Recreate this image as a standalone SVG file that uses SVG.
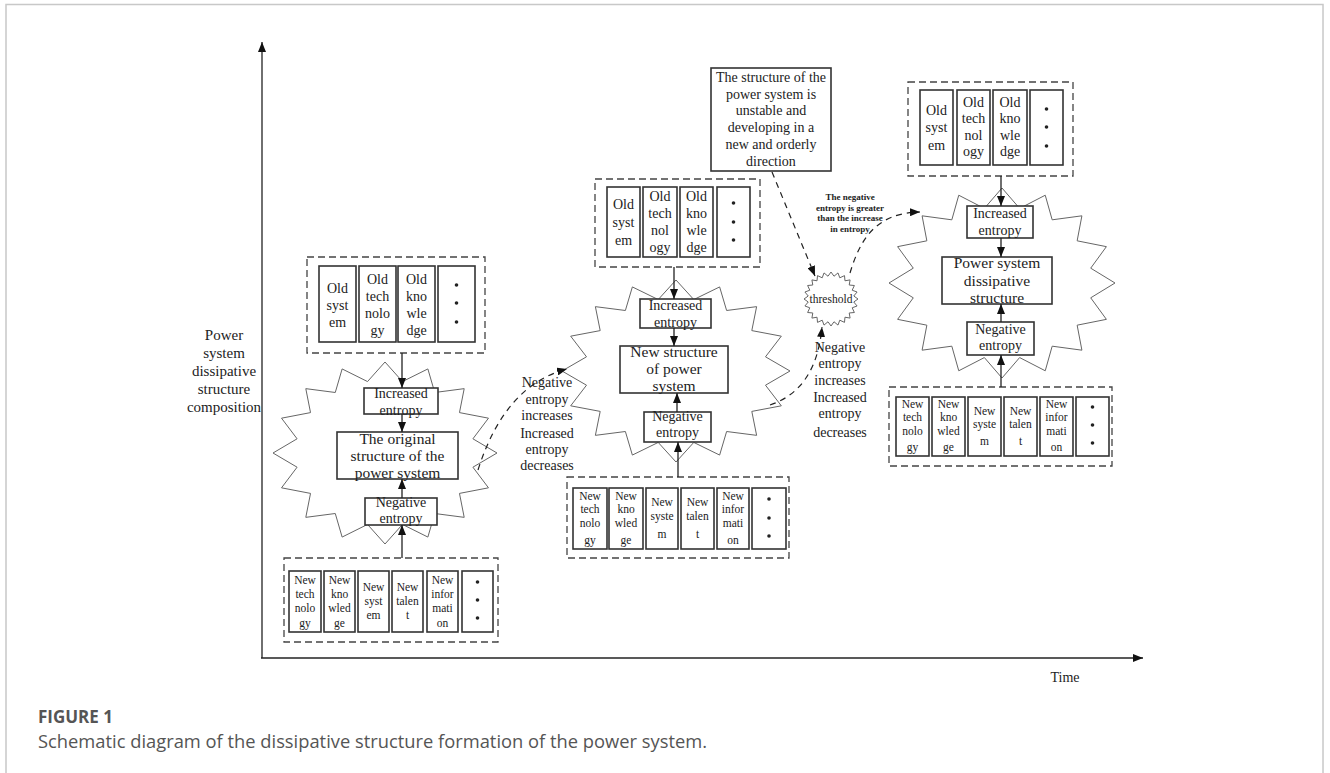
<svg xmlns="http://www.w3.org/2000/svg" xmlns:xlink="http://www.w3.org/1999/xlink" width="1330" height="773" viewBox="0 0 1330 773">
<style>
.t{font-family:"Liberation Serif","Times New Roman",serif;fill:#222;text-anchor:middle}
.f15{font-size:15px}.f14{font-size:14px}.f12{font-size:11.5px}.f16{font-size:15.5px}
.fb{font-size:9px;font-weight:bold}
.box{fill:#fff;stroke:#333;stroke-width:1.6}
.dash{fill:none;stroke:#444;stroke-width:1.3;stroke-dasharray:7 4}
.star{fill:#fff;stroke:#666;stroke-width:1;vector-effect:non-scaling-stroke}
.conn{stroke:#222;stroke-width:1.3;fill:none}
.dc{stroke:#222;stroke-width:1.2;fill:none;stroke-dasharray:6 5}
.dot{fill:#222}
.cap{font-family:"Open Sans","Liberation Sans",sans-serif;fill:#555}
</style>
<defs>
<marker id="ah" viewBox="0 0 10 8" markerWidth="10" markerHeight="8" refX="10" refY="4" orient="auto" markerUnits="userSpaceOnUse"><path d="M0,0 L10,4 L0,8 Z" fill="#111"/></marker>
<polygon id="star16" class="star" vector-effect="non-scaling-stroke" points="0,-1 0.156,-0.785 0.3827,-0.9239 0.444,-0.665 0.7071,-0.7071 0.665,-0.444 0.9239,-0.3827 0.785,-0.156 1,0 0.785,0.156 0.9239,0.3827 0.665,0.444 0.7071,0.7071 0.444,0.665 0.3827,0.9239 0.156,0.785 0,1 -0.156,0.785 -0.3827,0.9239 -0.444,0.665 -0.7071,0.7071 -0.665,0.444 -0.9239,0.3827 -0.785,0.156 -1,0 -0.785,-0.156 -0.9239,-0.3827 -0.665,-0.444 -0.7071,-0.7071 -0.444,-0.665 -0.3827,-0.9239 -0.156,-0.785"/>
<polygon id="star24" class="star" vector-effect="non-scaling-stroke" points="1,0 0.8427,0.1109 0.9659,0.2588 0.7853,0.3253 0.866,0.5 0.6744,0.5175 0.7071,0.7071 0.5175,0.6744 0.5,0.866 0.3253,0.7853 0.2588,0.9659 0.1109,0.8427 0,1 -0.1109,0.8427 -0.2588,0.9659 -0.3253,0.7853 -0.5,0.866 -0.5175,0.6744 -0.7071,0.7071 -0.6744,0.5175 -0.866,0.5 -0.7853,0.3253 -0.9659,0.2588 -0.8427,0.1109 -1,0 -0.8427,-0.1109 -0.9659,-0.2588 -0.7853,-0.3253 -0.866,-0.5 -0.6744,-0.5175 -0.7071,-0.7071 -0.5175,-0.6744 -0.5,-0.866 -0.3253,-0.7853 -0.2588,-0.9659 -0.1109,-0.8427 0,-1 0.1109,-0.8427 0.2588,-0.9659 0.3253,-0.7853 0.5,-0.866 0.5175,-0.6744 0.7071,-0.7071 0.6744,-0.5175 0.866,-0.5 0.7853,-0.3253 0.9659,-0.2588 0.8427,-0.1109"/>
</defs>
<rect width="1330" height="773" fill="#fff"/>
<rect x="6" y="4.5" width="1317" height="800" fill="none" stroke="#c8c8c8" stroke-width="1.5"/>

<g id="axes">
<line class="conn" x1="262" y1="658" x2="262" y2="42" marker-end="url(#ah)"/>
<line class="conn" x1="261" y1="658" x2="1143" y2="658" marker-end="url(#ah)"/>
<text class="t f14" x="1065" y="682">Time</text>
<text class="t f15"><tspan x="224" y="340">Power</tspan><tspan x="224" y="358">system</tspan><tspan x="224" y="376">dissipative</tspan><tspan x="224" y="394">structure</tspan><tspan x="224" y="412">composition</tspan></text>
</g>

<g id="stage1">
<use xlink:href="#star16" href="#star16" transform="translate(385,453) scale(112,91)"/>
<rect class="dash" x="307" y="257" width="178" height="96"/>
<rect class="box" x="319" y="266" width="37" height="76"/>
<rect class="box" x="359" y="266" width="37" height="76"/>
<rect class="box" x="398" y="266" width="37" height="76"/>
<rect class="box" x="438" y="266" width="37" height="76"/>
<text class="t f14"><tspan x="337.5" y="293">Old</tspan><tspan x="337.5" y="310">syst</tspan><tspan x="337.5" y="327">em</tspan></text>
<text class="t f14"><tspan x="377.5" y="284">Old</tspan><tspan x="377.5" y="301">tech</tspan><tspan x="377.5" y="318">nolo</tspan><tspan x="377.5" y="335">gy</tspan></text>
<text class="t f14"><tspan x="416.5" y="284">Old</tspan><tspan x="416.5" y="301">kno</tspan><tspan x="416.5" y="318">wle</tspan><tspan x="416.5" y="335">dge</tspan></text>
<circle class="dot" cx="456.5" cy="285" r="1.8"/><circle class="dot" cx="456.5" cy="303" r="1.8"/><circle class="dot" cx="456.5" cy="322" r="1.8"/>
<rect class="box" x="364" y="388" width="74" height="26"/>
<text class="t f14"><tspan x="401" y="398">Increased</tspan><tspan x="401" y="415">entropy</tspan></text>
<rect class="box" x="337" y="432" width="121" height="47"/>
<text class="t f16"><tspan x="397.5" y="444">The original</tspan><tspan x="397.5" y="461">structure of the</tspan><tspan x="397.5" y="478">power system</tspan></text>
<rect class="box" x="365" y="498" width="72" height="27"/>
<text class="t f14"><tspan x="401" y="507">Negative</tspan><tspan x="401" y="523">entropy</tspan></text>
<rect class="dash" x="284" y="558" width="214" height="84"/>
<rect class="box" x="289" y="571" width="32" height="61"/>
<rect class="box" x="324" y="571" width="31" height="61"/>
<rect class="box" x="358" y="571" width="31" height="61"/>
<rect class="box" x="392" y="571" width="31" height="61"/>
<rect class="box" x="427" y="571" width="31" height="61"/>
<rect class="box" x="462" y="571" width="31" height="61"/>
<text class="t f12"><tspan x="305" y="584">New</tspan><tspan x="305" y="598">tech</tspan><tspan x="305" y="612">nolo</tspan><tspan x="305" y="627">gy</tspan></text>
<text class="t f12"><tspan x="339.5" y="584">New</tspan><tspan x="339.5" y="598">kno</tspan><tspan x="339.5" y="612">wled</tspan><tspan x="339.5" y="627">ge</tspan></text>
<text class="t f12"><tspan x="373.5" y="591">New</tspan><tspan x="373.5" y="605">syst</tspan><tspan x="373.5" y="619">em</tspan></text>
<text class="t f12"><tspan x="407.5" y="591">New</tspan><tspan x="407.5" y="605">talen</tspan><tspan x="407.5" y="619">t</tspan></text>
<text class="t f12"><tspan x="442.5" y="584">New</tspan><tspan x="442.5" y="598">infor</tspan><tspan x="442.5" y="612">mati</tspan><tspan x="442.5" y="627">on</tspan></text>
<circle class="dot" cx="477.5" cy="582" r="1.8"/><circle class="dot" cx="477.5" cy="600" r="1.8"/><circle class="dot" cx="477.5" cy="618" r="1.8"/>
</g>

<g id="stage2">
<use xlink:href="#star16" href="#star16" transform="translate(676,371) scale(114,91)"/>
<rect class="dash" x="595" y="179" width="165" height="88"/>
<rect class="box" x="607" y="187" width="33" height="70"/>
<rect class="box" x="643" y="187" width="34" height="70"/>
<rect class="box" x="680" y="187" width="33" height="70"/>
<rect class="box" x="717" y="187" width="33" height="70"/>
<text class="t f14"><tspan x="623.5" y="209">Old</tspan><tspan x="623.5" y="227">syst</tspan><tspan x="623.5" y="245">em</tspan></text>
<text class="t f14"><tspan x="660" y="201">Old</tspan><tspan x="660" y="218">tech</tspan><tspan x="660" y="235">nol</tspan><tspan x="660" y="252">ogy</tspan></text>
<text class="t f14"><tspan x="696.5" y="201">Old</tspan><tspan x="696.5" y="218">kno</tspan><tspan x="696.5" y="235">wle</tspan><tspan x="696.5" y="252">dge</tspan></text>
<circle class="dot" cx="733.5" cy="203" r="1.8"/><circle class="dot" cx="733.5" cy="222" r="1.8"/><circle class="dot" cx="733.5" cy="240" r="1.8"/>
<rect class="box" x="640" y="299" width="71" height="29"/>
<text class="t f14"><tspan x="675.5" y="310">Increased</tspan><tspan x="675.5" y="327">entropy</tspan></text>
<rect class="box" x="620" y="346" width="108" height="47"/>
<text class="t f16"><tspan x="674" y="357">New structure</tspan><tspan x="674" y="374">of power</tspan><tspan x="674" y="391">system</tspan></text>
<rect class="box" x="644" y="412" width="67" height="30"/>
<text class="t f14"><tspan x="677.5" y="421">Negative</tspan><tspan x="677.5" y="437">entropy</tspan></text>
<rect class="dash" x="567" y="477" width="222" height="81"/>
<rect class="box" x="573" y="488" width="34" height="61"/>
<rect class="box" x="609" y="488" width="34" height="61"/>
<rect class="box" x="646" y="488" width="32" height="61"/>
<rect class="box" x="681" y="488" width="33" height="61"/>
<rect class="box" x="717" y="488" width="32" height="61"/>
<rect class="box" x="752" y="488" width="34" height="61"/>
<text class="t f12"><tspan x="590" y="500">New</tspan><tspan x="590" y="513">tech</tspan><tspan x="590" y="527">nolo</tspan><tspan x="590" y="544">gy</tspan></text>
<text class="t f12"><tspan x="626" y="500">New</tspan><tspan x="626" y="513">kno</tspan><tspan x="626" y="527">wled</tspan><tspan x="626" y="544">ge</tspan></text>
<text class="t f12"><tspan x="662" y="506">New</tspan><tspan x="662" y="520">syste</tspan><tspan x="662" y="538">m</tspan></text>
<text class="t f12"><tspan x="697.5" y="506">New</tspan><tspan x="697.5" y="520">talen</tspan><tspan x="697.5" y="538">t</tspan></text>
<text class="t f12"><tspan x="733" y="500">New</tspan><tspan x="733" y="513">infor</tspan><tspan x="733" y="527">mati</tspan><tspan x="733" y="544">on</tspan></text>
<circle class="dot" cx="769" cy="499" r="1.8"/><circle class="dot" cx="769" cy="518" r="1.8"/><circle class="dot" cx="769" cy="536" r="1.8"/>
</g>

<g id="note">
<rect class="box" x="711" y="68" width="120" height="103"/>
<text class="t f14"><tspan x="771" y="82">The structure of the</tspan><tspan x="771" y="99">power system is</tspan><tspan x="771" y="115">unstable and</tspan><tspan x="771" y="132">developing in a</tspan><tspan x="771" y="149">new and orderly</tspan><tspan x="771" y="166">direction</tspan></text>
</g>

<g id="threshold">
<use xlink:href="#star24" href="#star24" transform="translate(831,299) scale(27,27)"/>
<text class="t f12" x="831" y="303">threshold</text>
</g>

<g id="stage3">
<use xlink:href="#star16" href="#star16" transform="translate(1002,283) scale(113,95)"/>
<rect class="dash" x="908" y="82" width="165" height="94"/>
<rect class="box" x="920" y="90" width="33" height="75"/>
<rect class="box" x="957" y="90" width="33" height="75"/>
<rect class="box" x="993" y="90" width="34" height="75"/>
<rect class="box" x="1030" y="90" width="33" height="75"/>
<text class="t f14"><tspan x="936.5" y="115">Old</tspan><tspan x="936.5" y="132">syst</tspan><tspan x="936.5" y="150">em</tspan></text>
<text class="t f14"><tspan x="973.5" y="107">Old</tspan><tspan x="973.5" y="123">tech</tspan><tspan x="973.5" y="140">nol</tspan><tspan x="973.5" y="156">ogy</tspan></text>
<text class="t f14"><tspan x="1010" y="107">Old</tspan><tspan x="1010" y="123">kno</tspan><tspan x="1010" y="140">wle</tspan><tspan x="1010" y="156">dge</tspan></text>
<circle class="dot" cx="1046.5" cy="109" r="1.8"/><circle class="dot" cx="1046.5" cy="127" r="1.8"/><circle class="dot" cx="1046.5" cy="146" r="1.8"/>
<rect class="box" x="967" y="206" width="66" height="32"/>
<text class="t f14"><tspan x="1000" y="218">Increased</tspan><tspan x="1000" y="235">entropy</tspan></text>
<rect class="box" x="942" y="257" width="110" height="47"/>
<text class="t f16"><tspan x="997" y="268">Power system</tspan><tspan x="997" y="286">dissipative</tspan><tspan x="997" y="303">structure</tspan></text>
<rect class="box" x="967" y="322" width="67" height="33"/>
<text class="t f14"><tspan x="1000.5" y="334">Negative</tspan><tspan x="1000.5" y="350">entropy</tspan></text>
<rect class="dash" x="889" y="387" width="223" height="79"/>
<rect class="box" x="896" y="397" width="33" height="59"/>
<rect class="box" x="932" y="397" width="33" height="59"/>
<rect class="box" x="968" y="397" width="33" height="59"/>
<rect class="box" x="1004" y="397" width="33" height="59"/>
<rect class="box" x="1040" y="397" width="33" height="59"/>
<rect class="box" x="1076" y="397" width="33" height="59"/>
<text class="t f12"><tspan x="912.5" y="408">New</tspan><tspan x="912.5" y="421">tech</tspan><tspan x="912.5" y="435">nolo</tspan><tspan x="912.5" y="451">gy</tspan></text>
<text class="t f12"><tspan x="948.5" y="408">New</tspan><tspan x="948.5" y="421">kno</tspan><tspan x="948.5" y="435">wled</tspan><tspan x="948.5" y="451">ge</tspan></text>
<text class="t f12"><tspan x="984.5" y="415">New</tspan><tspan x="984.5" y="428">syste</tspan><tspan x="984.5" y="445">m</tspan></text>
<text class="t f12"><tspan x="1020.5" y="415">New</tspan><tspan x="1020.5" y="428">talen</tspan><tspan x="1020.5" y="445">t</tspan></text>
<text class="t f12"><tspan x="1056.5" y="408">New</tspan><tspan x="1056.5" y="421">infor</tspan><tspan x="1056.5" y="435">mati</tspan><tspan x="1056.5" y="451">on</tspan></text>
<circle class="dot" cx="1092.5" cy="407" r="1.8"/><circle class="dot" cx="1092.5" cy="425" r="1.8"/><circle class="dot" cx="1092.5" cy="443" r="1.8"/>
</g>

<g id="connectors">
<line class="conn" x1="402" y1="353" x2="402" y2="388" marker-end="url(#ah)"/>
<line class="conn" x1="402" y1="414" x2="402" y2="432" marker-end="url(#ah)"/>
<line class="conn" x1="402" y1="498" x2="402" y2="479" marker-end="url(#ah)"/>
<line class="conn" x1="402" y1="558" x2="402" y2="525" marker-end="url(#ah)"/>
<line class="conn" x1="674" y1="267" x2="674" y2="299" marker-end="url(#ah)"/>
<line class="conn" x1="674" y1="328" x2="674" y2="346" marker-end="url(#ah)"/>
<line class="conn" x1="677" y1="412" x2="677" y2="393" marker-end="url(#ah)"/>
<line class="conn" x1="678" y1="477" x2="678" y2="442" marker-end="url(#ah)"/>
<line class="conn" x1="1001" y1="176" x2="1001" y2="206" marker-end="url(#ah)"/>
<line class="conn" x1="1001" y1="238" x2="1001" y2="257" marker-end="url(#ah)"/>
<line class="conn" x1="1001" y1="322" x2="1001" y2="304" marker-end="url(#ah)"/>
<line class="conn" x1="1001" y1="387" x2="1001" y2="355" marker-end="url(#ah)"/>
<path class="dc" d="M478,470 Q505,385 567,369" marker-end="url(#ah)"/>
<path class="dc" d="M770,405 C800,395 818,370 822,327" marker-end="url(#ah)"/>
<path class="dc" d="M850,273 C860,240 875,213 920,212" marker-end="url(#ah)"/>
<line class="dc" x1="772" y1="172" x2="815" y2="276" marker-end="url(#ah)"/>
<text class="t f14"><tspan x="547" y="387">Negative</tspan><tspan x="547" y="404">entropy</tspan><tspan x="547" y="420">increases</tspan><tspan x="547" y="438">Increased</tspan><tspan x="547" y="454">entropy</tspan><tspan x="547" y="470">decreases</tspan></text>
<text class="t f14"><tspan x="840" y="352">Negative</tspan><tspan x="840" y="368">entropy</tspan><tspan x="840" y="385">increases</tspan><tspan x="840" y="402">Increased</tspan><tspan x="840" y="418">entropy</tspan><tspan x="840" y="437">decreases</tspan></text>
<text class="t fb"><tspan x="850" y="200">The negative</tspan><tspan x="850" y="211">entropy is greater</tspan><tspan x="850" y="221">than the increase</tspan><tspan x="850" y="232">in entropy</tspan></text>
</g>

<g id="caption">
<text class="cap" x="38" y="723" font-size="17" font-weight="bold">FIGURE 1</text>
<text class="cap" x="38" y="748" font-size="17.5" textLength="669" lengthAdjust="spacingAndGlyphs">Schematic diagram of the dissipative structure formation of the power system.</text>
</g>
</svg>
